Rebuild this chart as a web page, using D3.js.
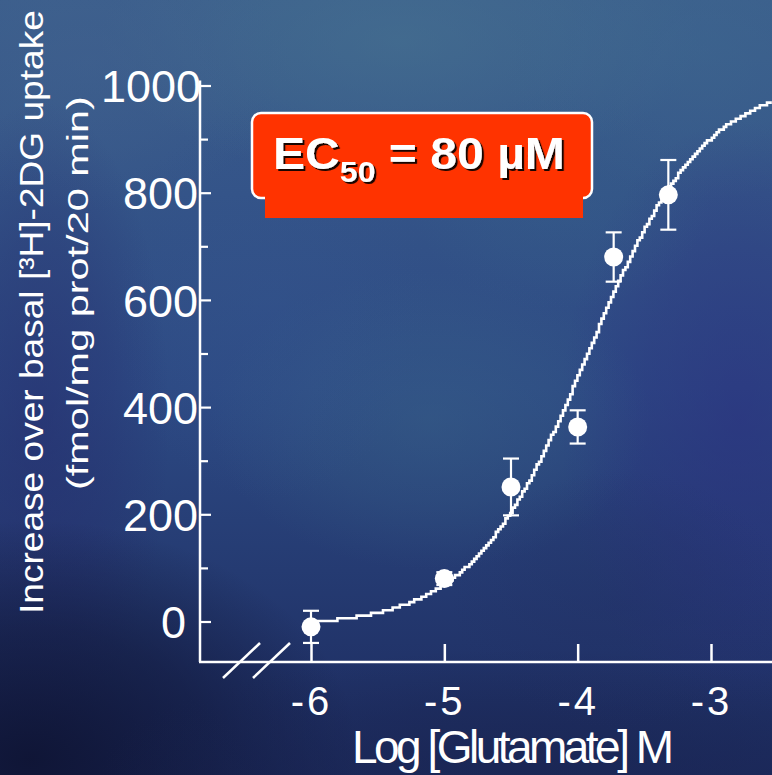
<!DOCTYPE html>
<html>
<head>
<meta charset="utf-8">
<script src="https://cdn.jsdelivr.net/npm/d3@7"></script>
<style>
  html, body { margin: 0; padding: 0; background: #1d2b5a; }
  svg { display: block; }
  text { font-family: "Liberation Sans", Arial, Helvetica, sans-serif; fill: #fff; }
</style>
</head>
<body>
<svg id="chart" width="772" height="775"></svg>
<script>
// ---- data ----
const logConc    = [-6, -5, -4.5, -4, -3.73, -3.32];   // log [Glutamate] (M)
const uptake     = [-10, 80, 251, 363, 680, 796];      // fmol/mg prot/20 min over basal
const uptakeSem  = [30, 12, 53, 31, 46, 65];           // error bar half-lengths
const xTickValues = [-6, -5, -4, -3];
const yTickValues = [0, 200, 400, 600, 800, 1000];
const yMinorTickValues = [100, 300, 500, 700, 900];
// sigmoid dose-response fit drawn through the points
const fitBottom = -10, fitTop = 1010, fitLogMid = -3.93, fitHill = 1.0;
const ec50Label = { main: "EC", sub: "50", rest: " = 80 µM" };

// ---- layout ----
const W = 772, H = 775;
const axisX = 200, axisY = 662;
const svg = d3.select("#chart");
const x = d3.scaleLinear().domain([-6, -3]).range([311, 711]);
const y = d3.scaleLinear().domain([0, 1000]).range([621.5, 85.5]);

// ---- background: blue gradient with soft mottled patches ----
const defs = svg.append("defs");
const bg = defs.append("linearGradient").attr("id", "bgGrad")
  .attr("x1", 0).attr("y1", 0).attr("x2", 0).attr("y2", 1);
bg.append("stop").attr("offset", "0%").attr("stop-color", "#3b5e8c");
bg.append("stop").attr("offset", "50%").attr("stop-color", "#2d4a84");
bg.append("stop").attr("offset", "100%").attr("stop-color", "#1c2a5e");
svg.append("rect").attr("width", W).attr("height", H).attr("fill", "url(#bgGrad)");

const blobs = [
  [400, 40, 300, 140, "#4a7892", 0.5],
  [90, 60, 200, 150, "#43638f", 0.45],
  [700, 50, 200, 150, "#3f6a90", 0.45],
  [740, 420, 180, 300, "#2b2e80", 0.55],
  [430, 420, 220, 150, "#3b6889", 0.4],
  [270, 300, 160, 200, "#34548e", 0.35],
  [40, 420, 130, 320, "#24286a", 0.5],
  [30, 760, 330, 240, "#0e1332", 0.9],
  [520, 770, 420, 120, "#19244f", 0.6],
  [620, 600, 170, 130, "#223066", 0.4],
  [560, 200, 150, 110, "#35628a", 0.3]
];
blobs.forEach((b, i) => {
  const g = defs.append("radialGradient").attr("id", "blob" + i);
  g.append("stop").attr("offset", "0%").attr("stop-color", b[4]).attr("stop-opacity", b[5]);
  g.append("stop").attr("offset", "55%").attr("stop-color", b[4]).attr("stop-opacity", b[5] * 0.55);
  g.append("stop").attr("offset", "100%").attr("stop-color", b[4]).attr("stop-opacity", 0);
});
svg.append("g").selectAll("ellipse").data(blobs).join("ellipse")
  .attr("cx", d => d[0]).attr("cy", d => d[1])
  .attr("rx", d => d[2]).attr("ry", d => d[3])
  .attr("fill", (d, i) => `url(#blob${i})`);

const ds = defs.append("filter").attr("id", "txtShadow")
  .attr("x", "-10%").attr("y", "-20%").attr("width", "120%").attr("height", "150%");
ds.append("feDropShadow").attr("dx", 2).attr("dy", 2).attr("stdDeviation", 0.5)
  .attr("flood-color", "#000").attr("flood-opacity", 0.9);

// ---- axes ----
const axes = svg.append("g").attr("stroke", "#fff").attr("fill", "none");
axes.append("line").attr("x1", axisX).attr("x2", axisX)
  .attr("y1", y(1000) - 5).attr("y2", axisY).attr("stroke-width", 2.5);
axes.append("line").attr("x1", axisX - 1).attr("x2", W)
  .attr("y1", axisY).attr("y2", axisY).attr("stroke-width", 2.5);

// y axis: ticks pointing into the plot, labels to the left
const yAxis = svg.append("g").attr("transform", `translate(${axisX},0)`)
  .call(d3.axisLeft(y).tickValues(yTickValues).tickSize(-11).tickPadding(2)
    .tickFormat(d => String(d)));
yAxis.select(".domain").remove();
yAxis.selectAll(".tick line").attr("stroke", "#fff").attr("stroke-width", 2.2);
yAxis.selectAll(".tick text").attr("fill", "#fff").attr("font-size", 45)
  .attr("font-family", "Liberation Sans, Arial, sans-serif").attr("dy", "0.36em")
  .attr("dx", d => d === 0 ? -12 : (d === 1000 ? 3 : 0));

const yMinor = svg.append("g").attr("transform", `translate(${axisX},0)`)
  .call(d3.axisLeft(y).tickValues(yMinorTickValues).tickSize(-8).tickFormat(""));
yMinor.select(".domain").remove();
yMinor.selectAll(".tick line").attr("stroke", "#fff").attr("stroke-width", 2.2);

// x axis: ticks pointing up, labels below
const xAxis = svg.append("g").attr("transform", `translate(0,${axisY})`)
  .call(d3.axisBottom(x).tickValues(xTickValues).tickSize(-18).tickPadding(25)
    .tickFormat(d => String(d)));
xAxis.select(".domain").remove();
xAxis.selectAll(".tick line").attr("stroke", "#fff").attr("stroke-width", 2.5);
xAxis.selectAll(".tick text").attr("fill", "#fff").attr("font-size", 40)
  .attr("font-family", "Liberation Sans, Arial, sans-serif")
  .attr("letter-spacing", "3px").attr("dy", "0.71em");

// axis break marks
const brk = svg.append("g").attr("stroke", "#fff").attr("stroke-width", 2.5);
[23, 53].forEach(off => {
  brk.append("line")
    .attr("x1", axisX + off).attr("y1", axisY + 16)
    .attr("x2", axisX + off + 37).attr("y2", axisY - 19);
});

// ---- fitted curve (stair-stepped raster look) ----
const xEnd = x.invert(W + 2);
const fitX = d3.range(-6, xEnd, 0.018);
const fitVal = lx => fitBottom + (fitTop - fitBottom) / (1 + Math.pow(10, (fitLogMid - lx) * fitHill));
const q = 2.7;
const curve = d3.line()
  .x(lx => x(lx))
  .y(lx => Math.round(y(fitVal(lx)) / q) * q)
  .curve(d3.curveStepAfter);
svg.append("path").datum(fitX)
  .attr("d", curve)
  .attr("fill", "none").attr("stroke", "#fff").attr("stroke-width", 2.6);

// ---- error bars and points ----
const pts = logConc.map((c, i) => ({ c, v: uptake[i], e: uptakeSem[i] }));
const eb = svg.append("g").attr("stroke", "#fff").attr("stroke-width", 2.2);
pts.forEach(p => {
  eb.append("line").attr("x1", x(p.c)).attr("x2", x(p.c))
    .attr("y1", y(p.v + p.e)).attr("y2", y(p.v - p.e));
  [p.v + p.e, p.v - p.e].forEach(v => {
    eb.append("line").attr("x1", x(p.c) - 8).attr("x2", x(p.c) + 8)
      .attr("y1", y(v)).attr("y2", y(v));
  });
});
svg.append("g").selectAll("circle").data(pts).join("circle")
  .attr("cx", d => x(d.c)).attr("cy", d => y(d.v)).attr("r", 9.5)
  .attr("fill", "#fff");

// ---- axis titles ----
// condense/expand spacing so a text spans the given length
function spaceText(sel, target) {
  const n = sel.text().length;
  const natural = sel.node().getComputedTextLength();
  sel.attr("letter-spacing", ((target - natural) / (n - 1)) + "px");
}
// stretch glyphs along the reading direction to span the given length
function stretchText(sel, tx, ty, rot, target) {
  const natural = sel.node().getComputedTextLength();
  sel.attr("transform", `translate(${tx},${ty}) rotate(${rot}) scale(${target / natural},1)`);
}
const xTitle = svg.append("text").attr("x", 352).attr("y", 763)
  .attr("font-size", 46).text("Log [Glutamate] M");
spaceText(xTitle, 322);

const yTitle1 = svg.append("text").attr("font-size", 33)
  .text("Increase over basal [³H]-2DG uptake");
stretchText(yTitle1, 43, 614, -90, 604);
const yTitle2 = svg.append("text").attr("font-size", 30)
  .text("(fmol/mg prot/20 min)");
stretchText(yTitle2, 88, 490, -90, 394);

// ---- EC50 callout ----
const box = svg.append("g");
box.append("rect").attr("x", 252).attr("y", 113).attr("width", 340).attr("height", 85)
  .attr("rx", 9).attr("fill", "#ff3300").attr("stroke", "#fff").attr("stroke-width", 2.5);
box.append("rect").attr("x", 265).attr("y", 192).attr("width", 318).attr("height", 26)
  .attr("fill", "#ff3300");
const ec = box.append("text").attr("x", 0).attr("y", 0)
  .attr("font-weight", "bold").attr("font-size", 45)
  .attr("filter", "url(#txtShadow)");
ec.append("tspan").text(ec50Label.main);
ec.append("tspan").attr("font-size", 30).attr("dy", 13).text(ec50Label.sub);
ec.append("tspan").attr("dy", -13).text(ec50Label.rest);
const ecW = ec.node().getBBox().width;
ec.attr("transform", `translate(273,168.5) scale(${292 / ecW},1)`);
</script>
</body>
</html>
